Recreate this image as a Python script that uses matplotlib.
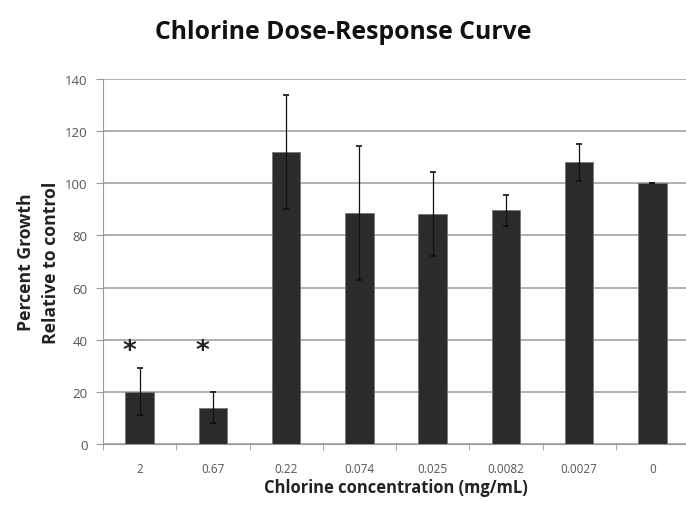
import numpy as np
import matplotlib.pyplot as plt

plt.rcParams['font.family'] = ['Open Sans', 'DejaVu Sans']

conc = ['2', '0.67', '0.22', '0.074', '0.025', '0.0082', '0.0027', '0']
growth = [20, 14, 112, 88.5, 88.2, 89.6, 108, 100]
err = [9, 6, 22, 25.7, 16, 6, 7.2, 0]
signif = [True, True, False, False, False, False, False, False]

fig = plt.figure(figsize=(6.86, 5.10), dpi=100)
ax = fig.add_axes([103/686, 65/510, 586/686, 365/510])

x = np.arange(len(conc))
ax.bar(x, growth, width=0.39, color='#2b2b2b', edgecolor='#777777', linewidth=0.6, zorder=3)
ax.errorbar(x, growth, yerr=err, fmt='none', ecolor='#111111', elinewidth=0.9,
            capsize=2, capthick=1.2, zorder=4)
for xi, s in zip(x, signif):
    if s:
        ax.text(xi - 0.14, 35.8, '*', ha='center', va='center', fontsize=19,
                fontweight='bold', color='#222222', family='DejaVu Sans')

ax.set_xlim(-0.5, len(conc) - 0.5)
ax.set_ylim(0, 140)
ax.set_yticks(range(0, 141, 20))
ax.yaxis.grid(True, color='#9a9a9a', linewidth=1.1, zorder=0)
ax.set_axisbelow(True)

ax.set_xticks(x)
ax.set_xticklabels(conc, color='#555555', fontsize=8.5)
ax.set_xticks(np.arange(-0.5, len(conc), 1), minor=True)
ax.tick_params(axis='x', which='major', length=0, pad=13)
ax.tick_params(axis='x', which='minor', length=4, color='#999999', direction='out')
ax.tick_params(axis='y', length=5, color='#999999', labelcolor='#555555', labelsize=9.5, pad=6)

for side in ['top', 'right']:
    ax.spines[side].set_visible(False)
ax.spines['left'].set_color('#999999')
ax.spines['bottom'].set_color('#999999')

ax.set_ylabel('Percent Growth\nRelative to control', fontsize=12.7, fontweight='bold',
              color='#222222', labelpad=4, linespacing=1.5)
ax.set_xlabel('Chlorine concentration (mg/mL)', fontsize=11.9, fontweight='bold',
              color='#222222', labelpad=2)
fig.text(0.5, 0.937, 'Chlorine Dose-Response Curve', ha='center', va='center',
         fontsize=17.8, fontweight='bold', color='#111111')

fig.savefig('out.png', dpi=100)
